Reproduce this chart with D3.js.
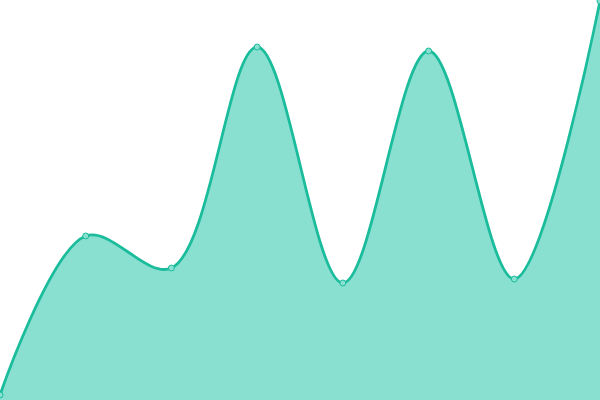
<!DOCTYPE html>
<html>
<head>
<meta charset="utf-8">
<script src="https://cdn.jsdelivr.net/npm/d3@7"></script>
<style>
  html, body { margin: 0; padding: 0; background: #fff; }
  svg { display: block; }
</style>
</head>
<body>
<div id="chart"></div>
<script>
var labels = ['A', 'B', 'C', 'D', 'E', 'F', 'G', 'H'];
var values = [5, 164, 132, 353, 117, 349, 121, 399];

var width = 600,
    height = 400;

var x = d3.scalePoint().domain(labels).range([0, width]);
var y = d3.scaleLinear().domain([0, 400]).range([height, 0]);

var data = labels.map(function(l, i) { return {label: l, value: values[i]}; });

var svg = d3.select('#chart')
    .append('svg')
        .attr('width', width)
        .attr('height', height);

var area = d3.area()
    .curve(d3.curveCatmullRom)
    .x(function(d) { return x(d.label); })
    .y0(height)
    .y1(function(d) { return y(d.value); });

var line = d3.line()
    .curve(d3.curveCatmullRom)
    .x(function(d) { return x(d.label); })
    .y(function(d) { return y(d.value); });

svg.append('path')
    .attr('d', area(data))
    .attr('fill', '#8ae0d0');

svg.append('path')
    .attr('d', line(data))
    .attr('fill', 'none')
    .attr('stroke', '#1abc9c')
    .attr('stroke-width', 2.8);

svg.selectAll('circle')
    .data(data)
    .enter().append('circle')
        .attr('cx', function(d) { return x(d.label); })
        .attr('cy', function(d) { return y(d.value); })
        .attr('r', 3)
        .attr('fill', '#8ae0d0')
        .attr('stroke', '#1abc9c')
        .attr('stroke-width', 1);
</script>
</body>
</html>
